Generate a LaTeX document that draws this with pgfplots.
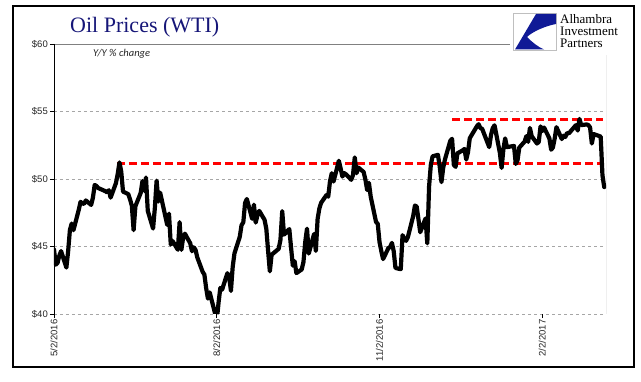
\documentclass[border=0pt]{standalone}
\usepackage{pgfplots}
\pgfplotsset{compat=1.18}
\usepackage{pgfplotstable}
\usepackage{fontspec}
\setmainfont{Liberation Serif}
\newfontfamily\lsans{Liberation Sans}
\newfontfamily\carlito{Carlito}
\definecolor{navy}{RGB}{22,22,120}
\definecolor{logoblue}{RGB}{16,26,150}
\pgfplotstableread{
day price
0 44.78
1 43.65
2 43.78
3 44.32
4 44.66
7 43.44
8 44.66
9 46.23
10 46.70
11 46.21
14 47.72
15 48.31
16 48.19
17 48.16
18 48.41
21 48.08
22 48.62
23 49.56
24 49.48
25 49.33
29 49.10
30 49.01
31 49.17
32 48.62
35 49.69
36 50.36
37 51.23
38 50.56
39 49.07
42 48.88
43 48.49
44 48.01
45 46.21
46 47.98
49 48.97
50 49.85
51 49.13
52 50.11
53 47.64
56 46.33
57 47.85
58 49.88
59 48.33
60 48.99
64 46.60
65 47.43
66 45.14
67 45.41
70 44.76
71 46.80
72 44.75
73 45.68
74 45.95
77 45.24
78 44.65
79 44.94
80 44.75
81 44.19
84 43.13
85 42.92
86 41.92
87 41.14
88 41.60
91 40.06
92 39.51
93 40.83
94 41.93
95 41.80
98 43.02
99 42.77
100 41.71
101 43.49
102 44.49
105 45.72
106 46.58
107 46.79
108 48.22
109 48.52
112 47.05
113 48.10
114 46.77
115 47.33
116 47.64
119 46.98
120 46.32
121 44.70
122 43.16
123 44.39
127 44.83
128 45.50
129 47.62
130 45.88
133 46.29
134 44.90
135 43.58
136 43.91
137 43.03
140 43.30
141 43.85
142 45.33
143 46.32
144 44.48
147 45.93
148 44.67
149 47.05
150 47.83
151 48.24
154 48.81
155 48.69
156 49.83
157 50.43
158 49.81
161 51.35
162 50.79
163 50.18
164 50.44
165 50.35
168 49.94
169 50.29
170 51.60
171 50.43
172 50.85
175 50.52
176 49.96
177 49.18
178 49.72
179 48.70
182 46.83
183 46.67
184 45.32
185 44.66
186 44.07
189 44.88
190 44.96
191 45.27
192 44.66
193 43.41
196 43.32
197 45.84
198 45.57
199 45.42
200 45.69
203 47.24
204 48.03
205 47.96
207 46.06
210 47.08
211 45.23
212 49.44
213 51.06
214 51.68
217 51.79
218 50.93
219 49.77
220 50.84
221 51.46
224 52.83
225 52.98
226 51.04
227 50.90
228 51.90
231 52.12
232 52.23
233 51.44
234 51.98
235 53.02
239 53.90
240 54.06
241 53.77
242 53.72
246 52.36
247 53.26
248 53.77
249 53.98
252 51.95
253 50.82
254 52.19
255 53.01
256 52.36
260 52.45
261 51.12
262 51.39
263 52.33
266 52.77
267 53.18
268 52.75
269 53.78
270 53.17
273 52.63
274 52.75
275 53.90
276 53.55
277 53.81
280 53.01
281 52.17
282 52.34
283 53.00
284 53.84
287 52.96
288 53.21
289 53.11
290 53.41
291 53.38
295 53.99
296 53.59
297 54.45
298 53.99
301 54.04
302 54.00
303 53.82
304 52.63
305 53.33
308 53.19
309 53.14
310 50.28
311 49.40
}\oil
\pgfplotstableread{
day level
35.5 51.15
310.5 51.15
}\lowline
\pgfplotstableread{
day level
225 54.42
310.5 54.42
}\highline
\begin{document}
\begin{tikzpicture}[x=1pt,y=1pt]
\useasboundingbox (0,0) rectangle (641,381);
\fill[white] (0,0) rectangle (641,381);
\begin{axis}[
  at={(54pt,67pt)}, anchor=south west,
  scale only axis, width=552pt, height=270pt,
  xmin=0, xmax=312, ymin=40, ymax=60,
  axis line style={draw=none},
  xtick={0,92,184,276},
  xticklabels={5/2/2016,8/2/2016,11/2/2016,2/2/2017},
  ytick={40,45,50,55,60},
  yticklabels={\$40,\$45,\$50,\$55,\$60},
  xtick pos=bottom, ytick pos=left,
  tick align=outside, major tick length=4pt,
  tick style={black, line width=0.8pt},
  xticklabel style={rotate=90, anchor=east, font=\lsans\fontsize{9.5}{10}\selectfont, text=black!85, inner sep=1.5pt},
  yticklabel style={font=\lsans\fontsize{9.5}{10}\selectfont, text=black!85, inner sep=2pt},
  ymajorgrids, grid style={black!35, dashed, line width=0.5pt},
  clip=true,
]
\draw[black!50, line width=0.8pt] (rel axis cs:0,1) -- (rel axis cs:1,1) -- (rel axis cs:1,0);
\draw[black, line width=0.9pt] (rel axis cs:0,1) -- (rel axis cs:0,0) -- (rel axis cs:1,0);
\addplot[red, line width=3pt, dash pattern=on 8pt off 4pt] table[x=day,y=level] {\lowline};
\addplot[red, line width=3pt, dash pattern=on 8pt off 4pt] table[x=day,y=level] {\highline};
\addplot[black, line width=4.2pt, line join=round, line cap=round] table[x=day,y=price] {\oil};
\end{axis}
% logo area
\fill[white] (510,326) rectangle (632,373);
\draw[black!25, line width=0.8pt] (513,331) rectangle (556,368);
\fill[logoblue] (536,367) -- (556,367) -- (556,357) .. controls (545,355) and (532,349) .. (527,344) .. controls (532,339) and (538,334) .. (544,331.5) -- (515,331.5) -- cycle;
\node[anchor=north west, inner sep=0, align=left, font=\fontsize{13}{12}\selectfont] at (560,367) {Alhambra\\Investment\\Partners};
% titles
\node[anchor=base west, inner sep=0, text=navy, font=\fontsize{22}{24}\selectfont] at (70,348) {Oil Prices (WTI)};
\node[anchor=base west, inner sep=0, text=black!85, font=\carlito\itshape\fontsize{10.5}{12}\selectfont] at (93,324) {Y/Y \% change};
% outer frame
\draw[black, line width=1.2pt] (13,14) rectangle (634,375);
\end{tikzpicture}
\end{document}
